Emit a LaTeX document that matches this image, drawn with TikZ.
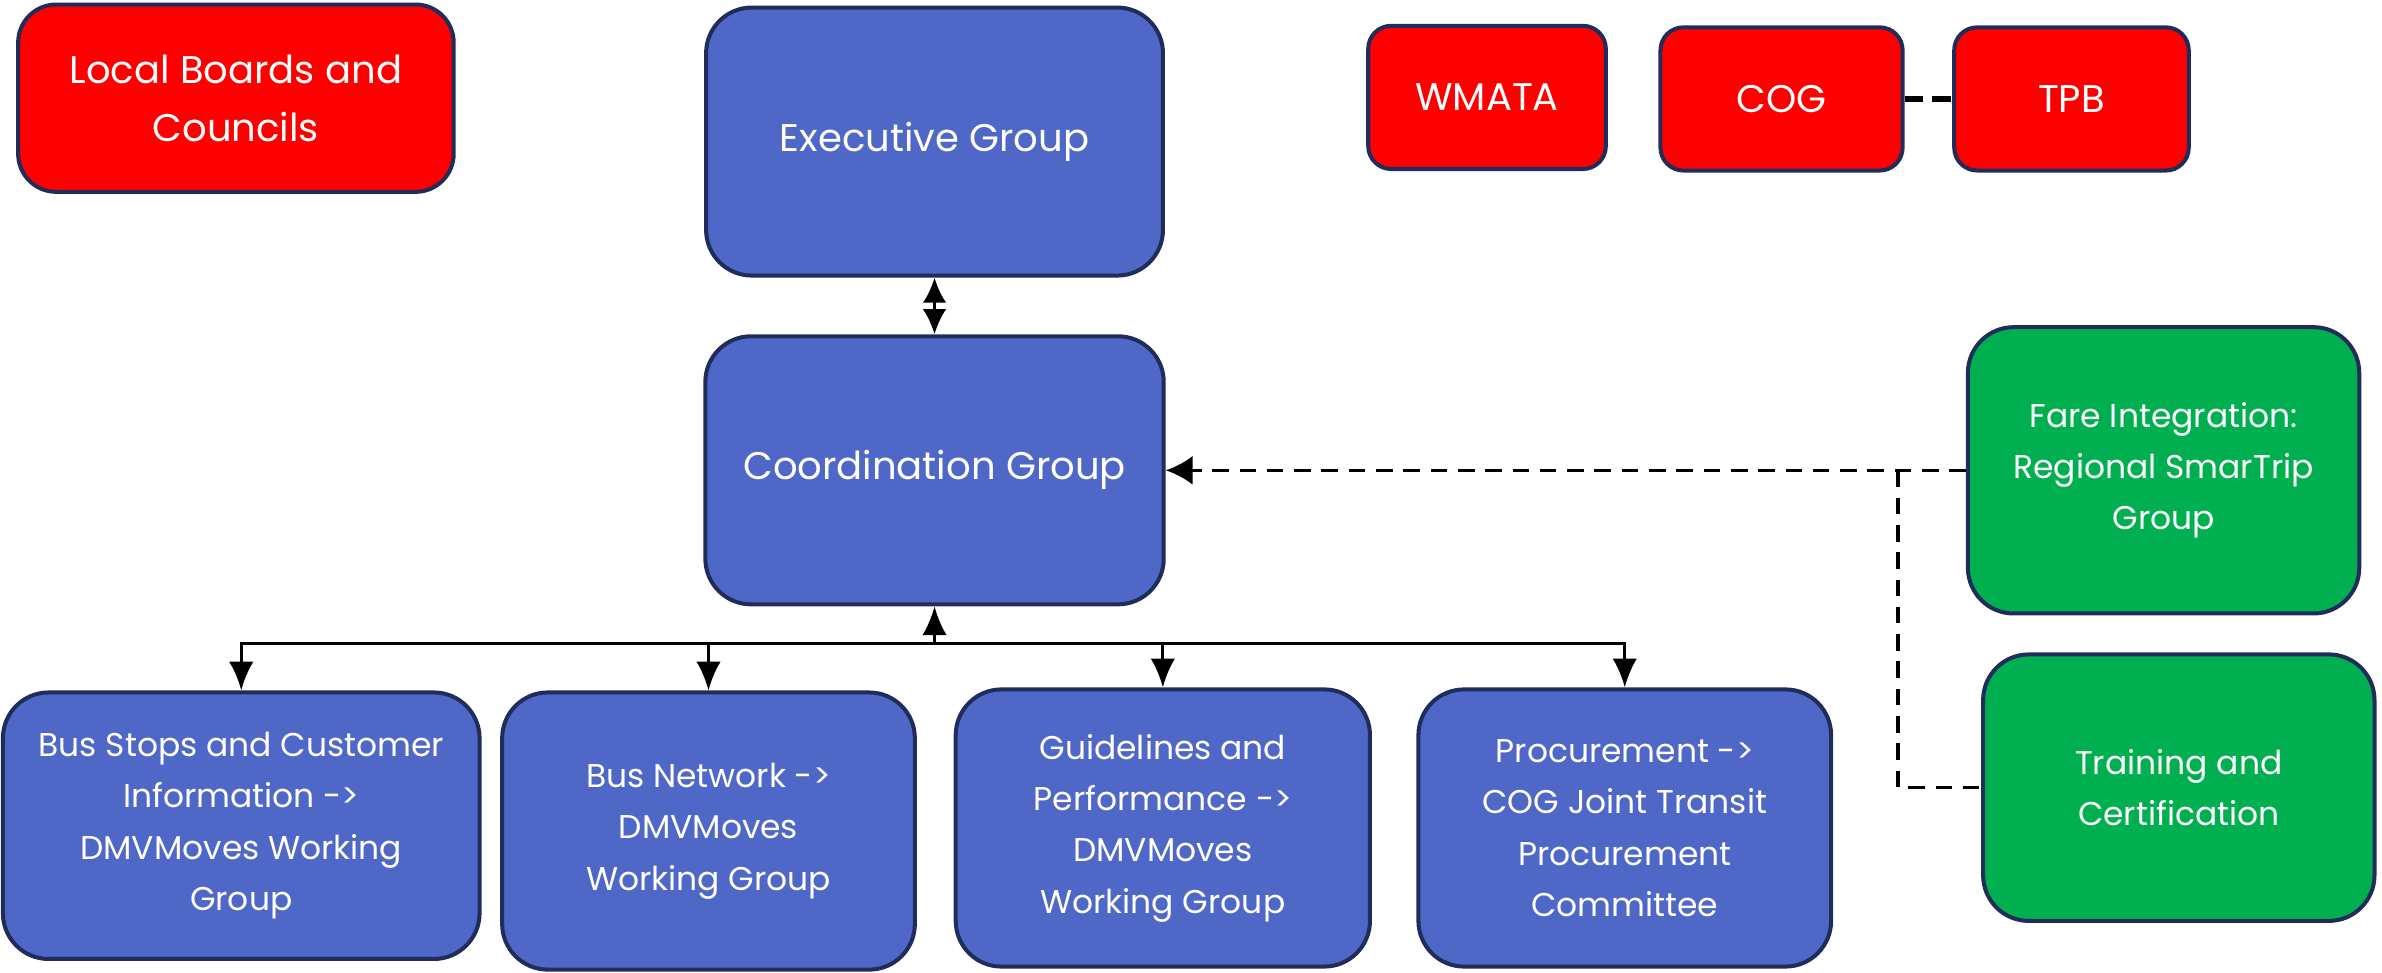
\documentclass[tikz,border=0pt]{standalone}
\usepackage{fontspec}
\setmainfont{Poppins}
\usetikzlibrary{arrows.meta}
\definecolor{navy}{RGB}{32,44,89}
\definecolor{bluefill}{RGB}{79,104,199}
\definecolor{redfill}{RGB}{255,0,0}
\definecolor{greenfill}{RGB}{0,176,80}
\begin{document}
\begin{tikzpicture}[x=0.01cm,y=-0.01cm,
  box/.style={draw=navy,line width=0.75pt,text=white,align=center,inner sep=0pt,rounded corners=0.3cm},
  bigtext/.style={font=\fontsize{7.2}{10.8}\selectfont},
  smalltext/.style={font=\fontsize{6.15}{9.6}\selectfont},
  bluebox/.style={box,fill=bluefill},
  redbox/.style={box,fill=redfill},
  greenbox/.style={box,fill=greenfill},
  conn/.style={line width=0.6pt,black},
  tip/.style={-{Latex[length=5.4pt,width=4.6pt]}},
  dtip/.style={{Latex[length=4.7pt,width=4.4pt]}-{Latex[length=4.7pt,width=4.4pt]}},
  dashconn/.style={line width=0.65pt,black,dash pattern=on 3.1pt off 2pt}
]
\useasboundingbox (0,0) rectangle (1565,639);

% top red boxes
\node[redbox,bigtext,rounded corners=0.25cm,minimum width=2.86cm,minimum height=1.23cm] (lb) at (155,64.5) {Local Boards and\\Councils};
\node[redbox,bigtext,rounded corners=0.15cm,minimum width=1.56cm,minimum height=0.94cm] (wm) at (977,64) {WMATA};
\node[redbox,bigtext,rounded corners=0.15cm,minimum width=1.59cm,minimum height=0.94cm] (cog) at (1170.5,65) {COG};
\node[redbox,bigtext,rounded corners=0.15cm,minimum width=1.54cm,minimum height=0.94cm] (tpb) at (1361,65) {TPB};

% blue hierarchy
\node[bluebox,bigtext,minimum width=3.0cm,minimum height=1.76cm] (ex) at (614,93) {Executive Group};
\node[bluebox,bigtext,minimum width=3.01cm,minimum height=1.76cm] (co) at (614,309) {Coordination Group};

\node[bluebox,smalltext,minimum width=3.13cm,minimum height=1.75cm] (bs) at (158.5,542.5) {Bus Stops and Customer\\Information ->\\DMVMoves Working\\Group};
\node[bluebox,smalltext,minimum width=2.71cm,minimum height=1.82cm] (bn) at (465.5,546) {Bus Network ->\\DMVMoves\\Working Group};
\node[bluebox,smalltext,minimum width=2.72cm,minimum height=1.82cm] (gl) at (764,544) {Guidelines and\\Performance ->\\DMVMoves\\Working Group};
\node[bluebox,smalltext,minimum width=2.71cm,minimum height=1.82cm] (pr) at (1067.5,544) {Procurement ->\\COG Joint Transit\\Procurement\\Committee};

% green boxes
\node[greenbox,smalltext,minimum width=2.57cm,minimum height=1.88cm] (fare) at (1421.5,309) {Fare Integration:\\Regional SmarTrip\\Group};
\node[greenbox,smalltext,minimum width=2.57cm,minimum height=1.75cm] (tr) at (1431.5,517.5) {Training and\\Certification};

% connectors
\draw[line width=1.25pt,black,dash pattern=on 3.5pt off 1.7pt] (cog.east) -- (tpb.west);
\draw[conn,dtip] (ex.south) -- (co.north);

\coordinate (bus) at (614,423);
\draw[conn,tip] (bus) -- (co.south);
\draw[conn,tip] (bus) -| (bs.north);
\draw[conn,tip] (bus) -| (bn.north);
\draw[conn,tip] (bus) -| (gl.north);
\draw[conn,tip] (bus) -| (pr.north);

\draw[dashconn,-{Latex[length=5pt,width=5.4pt]}] (fare.west) -- (co.east);
\coordinate (jn) at (1247,309);
\draw[dashconn] (jn) |- (tr.west);
\end{tikzpicture}
\end{document}
